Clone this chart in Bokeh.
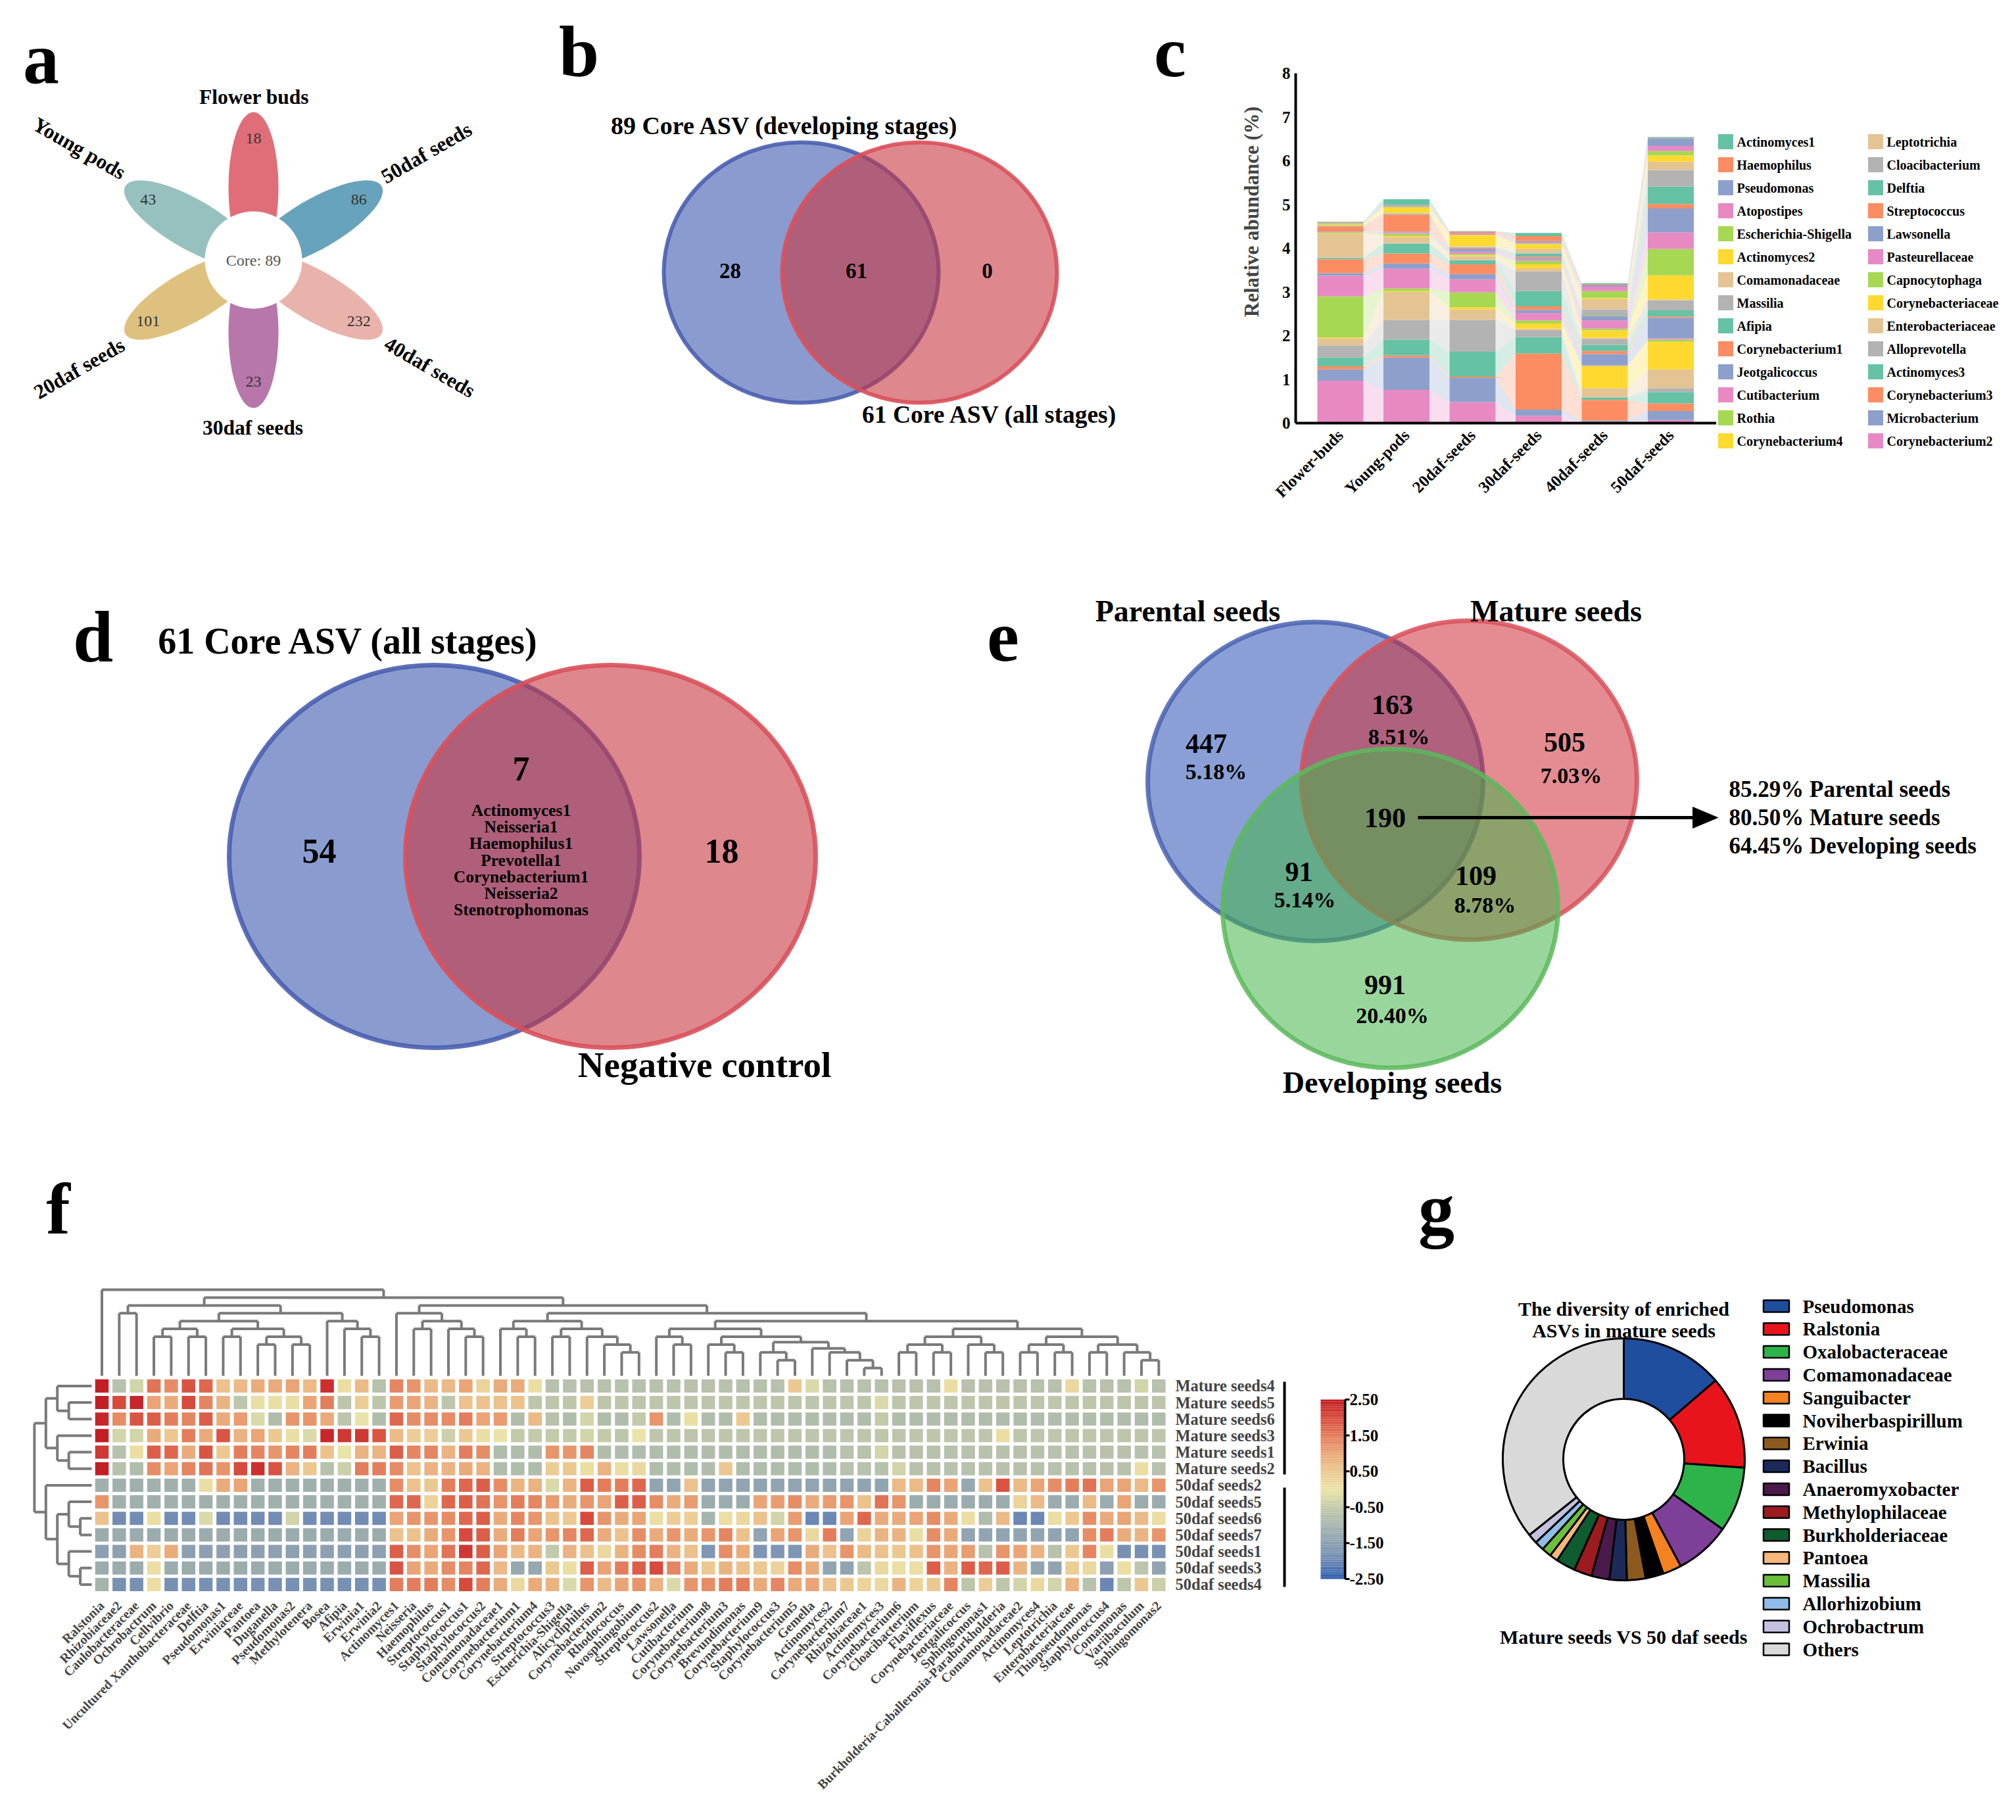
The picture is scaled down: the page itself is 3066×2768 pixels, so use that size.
import math
import numpy as np
from bokeh.plotting import figure
from bokeh.models import Range1d, FixedTicker, LinearAxis, ColumnDataSource, LinearColorMapper
from bokeh.layouts import row, column
from bokeh.embed import file_html
from bokeh.resources import INLINE
from bokeh.core.properties import value

# ------------------------------------------------------------------ DATA
# (a) flower diagram
petal_names = ["Flower buds", "50daf seeds", "40daf seeds", "30daf seeds", "20daf seeds", "Young pods"]
petal_counts = [18, 86, 232, 23, 101, 43]
core_count = 89

# (b) Venn
b_counts = [28, 61, 0]
b_labels = ["89 Core ASV (developing stages)", "61 Core ASV (all stages)"]

# (c) stacked abundance (%), 28 taxa
taxa = ["Actinomyces1", "Haemophilus", "Pseudomonas", "Atopostipes", "Escherichia-Shigella",
        "Actinomyces2", "Comamonadaceae", "Massilia", "Afipia", "Corynebacterium1",
        "Jeotgalicoccus", "Cutibacterium", "Rothia", "Corynebacterium4",
        "Leptotrichia", "Cloacibacterium", "Delftia", "Streptococcus", "Lawsonella",
        "Pasteurellaceae", "Capnocytophaga", "Corynebacteriaceae", "Enterobacteriaceae",
        "Alloprevotella", "Actinomyces3", "Corynebacterium3", "Microbacterium", "Corynebacterium2"]
stages = ["Flower-buds", "Young-pods", "20daf-seeds", "30daf-seeds", "40daf-seeds", "50daf-seeds"]
# values listed from the bottom of each bar upward (= taxa reversed)
flower_buds = [0.97, 0.26, 0.07, 0.20, 0.28, 0.16, 0.02, 0.94, 0.47, 0.06, 0.32, 0.03, 0.01, 0.54,
               0.01, 0.02, 0.01, 0.01, 0.12, 0.01, 0.01, 0.01, 0.02, 0.02, 0.01, 0.01, 0.01, 0.01]
young_pods = [0.76, 0.74, 0.05, 0.36, 0.45, 0.64, 0.02, 0.06, 0.45, 0.12, 0.23, 0.22, 0.02, 0.14,
              0.02, 0.05, 0.03, 0.02, 0.39, 0.01, 0.02, 0.01, 0.12, 0.02, 0.02, 0.01, 0.01, 0.13]
daf20 = [0.48, 0.55, 0.03, 0.57, 0.73, 0.24, 0.05, 0.34, 0.30, 0.12, 0.22, 0.09, 0.01, 0.09,
         0.02, 0.03, 0.05, 0.07, 0.02, 0.01, 0.01, 0.02, 0.25, 0.01, 0.03, 0.01, 0.03, 0.01]
daf30 = [0.17, 0.14, 1.28, 0.38, 0.16, 0.03, 0.12, 0.07, 0.17, 0.07, 0.08, 0.35, 0.45, 0.07,
         0.09, 0.08, 0.04, 0.03, 0.03, 0.07, 0.02, 0.09, 0.10, 0.02, 0.02, 0.03, 0.12, 0.07]
daf40 = [0.03, 0.03, 0.47, 0.05, 0.01, 0.21, 0.50, 0.01, 0.01, 0.26, 0.07, 0.14, 0.14, 0.02,
         0.17, 0.04, 0.19, 0.10, 0.02, 0.03, 0.10, 0.24, 0.02, 0.16, 0.10, 0.04, 0.02, 0.02]
daf50 = [0.07, 0.21, 0.17, 0.26, 0.09, 0.43, 0.63, 0.05, 0.03, 0.47, 0.03, 0.14, 0.23, 0.02,
         0.55, 0.60, 0.38, 0.55, 0.10, 0.40, 0.38, 0.19, 0.14, 0.10, 0.12, 0.17, 0.01, 0.02]
stage_values = [flower_buds, young_pods, daf20, daf30, daf40, daf50]
y_ticks_c = [0, 1, 2, 3, 4, 5, 6, 7, 8]

# (d) Venn
d_counts = [54, 7, 18]
d_shared = ["Actinomyces1", "Neisseria1", "Haemophilus1", "Prevotella1",
            "Corynebacterium1", "Neisseria2", "Stenotrophomonas"]

# (e) three-set Venn
e_sets = ["Parental seeds", "Mature seeds", "Developing seeds"]
e_counts = [447, 163, 505, 190, 91, 109, 991]
e_pcts = ["5.18%", "8.51%", "7.03%", "", "5.14%", "8.78%", "20.40%"]
e_core_pcts = ["85.29%", "80.50%", "64.45%"]

# (f) heatmap (z-scores)
hm_cols = ["Ralstonia", "Rhizobiaceae2", "Caulobacteraceae", "Ochrobactrum", "Cellvibrio",
           "Uncultured Xanthobacteraceae", "Delftia", "Pseudomonas1", "Erwiniaceae", "Pantoea",
           "Duganella", "Pseudomonas2", "Methylotenera", "Bosea", "Afipia", "Erwinia1", "Erwinia2",
           "Actinomyces1", "Neisseria", "Haemophilus", "Streptococcus1", "Staphylococcus1",
           "Staphylococcus2", "Comamonadaceae1", "Corynebacterium1", "Corynebacterium4",
           "Streptococcus3", "Escherichia-Shigella", "Alicycliphilus", "Corynebacterium2",
           "Rhodococcus", "Novosphingobium", "Streptococcus2", "Lawsonella", "Cutibacterium",
           "Corynebacterium8", "Corynebacterium3", "Brevundimonas", "Corynebacterium9",
           "Staphylococcus3", "Corynebacterium5", "Gemella", "Actinomyces2", "Corynebacterium7",
           "Rhizobiaceae1", "Actinomyces3", "Corynebacterium6", "Cloacibacterium", "Flaviflexus",
           "Corynebacteriaceae", "Jeotgalicoccus", "Sphingomonas1",
           "Burkholderia-Caballeronia-Paraburkholderia", "Comamonadaceae2", "Actinomyces4",
           "Leptotrichia", "Enterobacteriaceae", "Thiopseudomonas", "Staphylococcus4",
           "Comamonas", "Variibaculum", "Sphingomonas2"]
hm_rows = ["Mature seeds4", "Mature seeds5", "Mature seeds6", "Mature seeds3", "Mature seeds1",
           "Mature seeds2", "50daf seeds2", "50daf seeds5", "50daf seeds6", "50daf seeds7",
           "50daf seeds1", "50daf seeds3", "50daf seeds4"]
hm_values = [
    [2.5, -0.7, -0.3, 1.6, 1.3, 1.9, 1.7, 0.6, 0.7, 0.9, 0.9, 1.0, 0.7, 2.3, 0.1, 0.7, -0.7, 1.4, 1.2, 0.7,
     0.7, 1.0, 0.3, 0.9, 0.9, 0.1, -0.7, -0.7, -0.7, -0.7, -0.7, -0.7, -0.7, -0.7, -0.7, -0.7, -0.7, -0.7, -0.7, -0.7,
     0.5, -0.2, -0.7, -0.7, -0.7, -0.7, -0.7, -0.7, -0.7, 0.1, -0.7, -0.7, -0.7, -0.7, -0.7, -0.7, 0.2, -0.7, -0.7, -0.7,
     -0.3, -0.7],
    [2.5, 2.0, 2.4, 1.0, 0.9, 2.0, 1.4, 0.8, -0.6, 0.1, 0.1, 0.1, 1.0, 1.5, -0.6, 0.4, -0.6, 1.1, 1.0, 0.8,
     -0.6, 0.6, 0.6, 0.6, 0.6, -0.6, -0.6, -0.6, 0.4, -0.6, -0.6, -0.6, -0.6, -0.6, -0.6, -0.6, -0.6, -0.6, -0.6, -0.6,
     -0.6, -0.6, -0.6, -0.6, -0.6, -0.2, -0.6, -0.6, -0.6, -0.6, -0.6, -0.6, -0.6, -0.6, -0.6, -0.6, -0.6, -0.6, -0.6, -0.6,
     -0.6, -0.6],
    [2.4, 1.3, 1.9, 1.8, 1.5, 1.4, 1.8, 0.9, 1.1, -0.2, -0.8, 1.2, 1.2, 0.9, -0.6, 0.0, -0.8, 1.7, 1.3, 1.3,
     1.3, 1.5, 1.0, 1.1, -0.8, 0.7, -0.7, -0.8, -0.3, -0.8, -0.8, -0.5, 1.2, -0.8, 0.1, -0.8, -0.8, 0.5, -0.8, -0.8,
     -0.8, -0.8, -0.8, -0.8, -0.8, -0.5, -0.8, -0.8, -0.8, -0.8, -0.8, -0.8, -0.8, -0.8, -0.8, -0.8, -0.8, -0.8, -0.8, -0.8,
     -0.8, -0.8],
    [2.5, -0.3, -0.3, 0.9, 0.5, 1.5, 0.9, 1.9, 0.8, 1.0, 0.5, 0.1, -0.2, 2.4, 2.2, 2.2, 1.9, 0.7, 0.4, 0.4,
     -0.4, 0.5, 0.1, 0.0, -0.5, -0.5, -0.5, -0.5, -0.3, -0.5, -0.6, 0.0, -0.6, -0.6, -0.6, -0.6, -0.6, -0.6, -0.6, -0.6,
     -0.6, -0.6, -0.6, -0.6, -0.6, -0.6, -0.6, -0.6, -0.6, -0.6, -0.6, -0.6, 0.1, -0.6, -0.6, -0.6, -0.6, -0.6, -0.6, -0.6,
     -0.6, -0.6],
    [2.2, -0.7, 0.1, 1.8, 1.7, 0.9, 1.9, 0.5, 1.5, 1.4, 1.2, 1.4, 1.5, 0.6, 0.0, 0.8, 0.8, 1.8, 1.4, 1.4,
     0.8, 1.5, 1.3, -0.8, -0.8, -0.8, 1.2, 1.2, 1.4, -0.8, -0.8, -0.8, -0.8, -0.8, -0.8, -0.8, -0.8, -0.8, -0.8, -0.8,
     -0.8, -0.8, -0.8, -0.7, -0.7, -0.3, -0.7, -0.7, -0.7, -0.7, -0.7, -0.7, -0.7, -0.7, -0.7, -0.7, -0.7, -0.7, -0.7, -0.7,
     -0.7, -0.7],
    [2.5, -0.7, -0.8, 1.3, 1.0, 1.4, 1.6, 1.2, 2.0, 2.3, 1.9, 0.8, 0.5, -0.7, -0.4, 1.5, 1.5, 1.3, 0.6, 0.8,
     0.8, 0.9, 0.8, -0.8, -0.8, -0.8, 0.4, 0.5, 0.1, 0.8, 0.1, 0.2, -0.8, -0.8, -0.8, -0.8, 0.5, -0.8, -0.8, -0.8,
     -0.8, -0.8, -0.8, -0.7, -0.7, -0.7, -0.3, -0.7, -0.7, -0.7, -0.7, -0.7, -0.7, -0.7, -0.7, -0.7, -0.7, -0.7, -0.7, -0.7,
     0.1, -0.7],
    [-1.1, -1.1, -1.1, -1.1, -1.1, -1.1, 0.1, 0.9, 1.0, -1.1, -1.1, -1.1, -1.1, -1.1, -1.1, -1.1, -1.1, 1.3, 0.6, 0.5,
     1.5, 1.7, 1.8, 1.3, 0.8, 0.8, -0.2, 0.8, 1.8, 1.5, 1.5, 1.7, -1.4, -1.4, 0.6, -1.4, -1.4, -1.4, -1.4, -1.4,
     -1.4, -1.4, -1.4, -1.4, -1.4, -1.4, 0.7, 0.7, 1.4, 1.0, -1.3, 0.6, 1.9, 0.7, 1.0, 1.3, 1.5, 1.6, 1.0, 1.0,
     0.7, 1.2],
    [1.2, -1.1, -1.1, -1.1, -1.1, -1.1, -1.1, -1.1, -1.1, -1.1, -1.1, -1.1, -1.1, -1.1, -1.1, -1.1, -1.1, 1.7, 1.7, 0.3,
     1.7, 1.8, 1.6, 1.2, 1.5, 1.4, 1.1, 0.9, 1.2, 1.0, 1.8, 1.8, 1.3, 0.9, 1.1, -1.2, -1.2, -1.2, 1.0, 1.1,
     1.3, 0.9, 1.1, 1.2, 0.6, 1.6, 1.2, -1.2, -1.2, -1.2, -1.2, -1.2, -1.2, 0.3, 0.7, -1.2, -1.2, 0.7, -1.2, 1.0,
     -1.2, -1.2],
    [0.6, -1.9, -1.9, 0.1, -1.9, -1.9, -0.2, -1.9, -1.9, -1.9, -1.9, -0.3, -1.9, -1.9, -1.9, -1.9, -1.9, 1.0, 1.2, 1.2,
     1.3, 1.7, 1.8, 0.9, 1.4, 1.2, 0.6, 0.5, 2.0, 1.2, 0.9, 1.0, 0.1, 0.4, 0.4, -1.0, 0.1, 0.2, 0.6, -0.3,
     1.1, -2.0, -2.0, 1.0, 1.7, 0.9, 0.9, 1.0, 1.3, 0.9, 0.1, -0.8, 0.7, -2.0, -2.0, 0.1, 0.5, 1.3, 0.9, 1.0,
     0.7, 0.1],
    [-1.2, -1.2, -1.2, -1.2, -1.2, -1.2, -1.2, -1.2, -1.2, -1.2, -1.2, -1.2, -1.2, -1.2, -1.2, -1.2, -1.2, 0.6, 0.6, 0.9,
     1.2, 2.0, 1.8, 0.9, 1.5, 1.0, 1.2, 1.4, 1.7, 0.9, 0.6, 1.3, 0.9, 1.2, 0.9, 1.2, 1.4, 0.6, -1.4, 1.0,
     1.2, 0.2, 1.5, -1.4, 0.3, 0.8, 0.8, 0.1, 1.3, 0.9, -1.4, -1.4, -1.4, -1.4, -1.4, -1.4, -1.4, 1.3, 1.5, 0.9,
     0.8, 1.2],
    [-1.5, -1.5, 0.8, 0.4, 0.9, -1.5, -1.5, -1.5, -1.5, -1.5, -1.5, -1.5, -1.5, -1.5, -1.5, -1.5, -1.5, 1.8, 1.3, 1.0,
     1.6, 2.2, 1.8, 1.0, 0.7, 0.8, -0.5, 0.8, 0.6, 0.2, 0.8, 1.3, 1.5, 0.8, 0.6, -1.7, 1.3, 0.9, -1.7, -1.7,
     -1.7, 0.9, 0.6, 1.2, 0.7, 0.6, 0.5, 0.6, 1.2, 1.0, 1.1, -0.7, 1.2, 1.0, 0.8, -0.7, 0.5, 1.4, 0.1, -1.8,
     -1.8, -1.8],
    [-1.2, -1.2, -1.2, 0.1, -1.2, -1.2, -1.2, -1.2, -1.2, -1.2, -1.2, -1.2, -1.2, -1.2, -1.2, -1.2, -1.2, 1.9, 1.0, 0.9,
     1.3, 1.4, 1.7, 0.7, -1.3, -1.3, 0.5, 0.1, 1.8, 1.0, 1.5, 1.8, 2.0, 1.4, 0.9, 0.5, 0.8, 0.6, 0.5, 0.3,
     1.3, 0.9, -1.4, -1.4, -0.6, 0.2, 0.1, 0.1, 1.8, 0.8, 1.8, 1.7, 1.8, 0.8, -1.4, -1.4, 0.4, 0.2, -1.5, 0.1,
     -0.6, -1.4],
    [-1.0, -1.8, -1.8, 0.1, -1.8, -1.8, -1.8, -1.8, -1.8, -1.8, -1.8, -1.8, -1.8, -1.8, -1.8, -1.8, -1.8, 1.5, 1.5, 1.5,
     1.3, 2.0, 1.5, 0.9, 0.2, 0.9, 0.8, -0.2, 1.2, 0.7, 1.0, 1.2, 0.8, -0.2, 1.2, 1.3, 1.5, 1.5, 0.9, 1.4,
     0.9, 1.0, 0.6, 0.5, 0.3, 0.2, 0.8, 0.3, 0.5, 1.4, -0.6, 0.4, -0.6, -0.3, 0.2, -0.3, 0.8, -0.7, -2.0, -0.6,
     0.5, -0.4],
]
cbar_ticks = [2.5, 1.5, 0.5, -0.5, -1.5, -2.5]
# dendrograms: [merge level, child, child]; leaves are 1-based indices
_A = [7, [6, [5, 4, 5], [5, 6, 7]], [6, [5, 8, 9], [5, [4, 10, 11], [4, 12, 13]]]]
_B = [7, 14, [6, 15, [5, 16, 17]]]
_LEFT = [9, [8, 2, 3], [8, _A, _B]]
_R18 = [8, 18, [7, [6, 19, 20], [6, 21, [5, 22, 23]]]]
_C24 = [7, [6, 24, [5, 25, 26]], [6, [5, 27, 28], [5, 29, [4, 30, [3, 31, 32]]]]]
_C42 = [3.5, 42, [3, 43, [2, 44, [1, 45, 46]]]]
_C33 = [6, [5, 33, [4, 34, 35]], [5, [4, 36, [3, 37, 38]], [4.3, [3, 39, [2, 40, 41]], _C42]]]
_C47 = [6, [5, [4, [3, 47, 48], [3, 49, 50]], [4, 51, [3, 52, 53]]],
        [5, [4, [3, 54, 55], [3, 56, 57]], [4, [3, 58, 59], [3, 60, [2, 61, 62]]]]]
_RIGHT = [9, _R18, [8, _C24, [7, _C33, _C47]]]
col_tree = [11, 1, [10, _LEFT, _RIGHT]]
row_tree = [5, [4, [3, 1, [2, 2, 3]], [3, 4, [2, 5, 6]]],
            [4, 7, [3, [2, 8, [1, 9, 10]], [2, 11, [1, 12, 13]]]]]

# (g) donut (%)
g_names = ["Pseudomonas", "Ralstonia", "Oxalobacteraceae", "Comamonadaceae", "Sanguibacter",
           "Noviherbaspirillum", "Erwinia", "Bacillus", "Anaeromyxobacter", "Methylophilaceae",
           "Burkholderiaceae", "Pantoea", "Massilia", "Allorhizobium", "Ochrobactrum", "Others"]
g_values = [13.7, 12.4, 8.7, 7.4, 2.5, 2.4, 2.5, 2.3, 2.4, 2.4, 2.6, 1.1, 1.3, 1.25, 1.3, 35.75]

# ------------------------------------------------------------------ STYLE
SERIF = value("Liberation Serif")
SET2 = ["#66c2a5", "#fc8d62", "#8da0cb", "#e78ac3", "#a6d854", "#ffd92f", "#e5c494", "#b3b3b3"]
PETAL_COLORS = ["#e06e78", "#67a3bc", "#e9b3ac", "#b777ab", "#dfc17f", "#97c1be"]
G_COLORS = ["#1f4e9e", "#e8141c", "#2db34a", "#7e3f98", "#f58220", "#000000", "#8c5a1e", "#1c2a5a",
            "#4a1a4a", "#9b1b1f", "#0e5c2f", "#f5b77a", "#6cbf3c", "#8fbde8", "#c4c0e0", "#d9d9d9"]
ANCH = [(-2.5, (44, 92, 176)), (-2.0, (108, 136, 180)), (-1.5, (140, 160, 178)), (-1.0, (165, 180, 172)),
        (-0.5, (195, 202, 170)), (0.0, (234, 228, 168)), (0.5, (236, 200, 145)), (1.0, (234, 165, 118)),
        (1.5, (228, 125, 92)), (2.0, (215, 75, 60)), (2.5, (195, 30, 38))]


def cmap_color(v):
    v = max(-2.5, min(2.5, v))
    for (a, ca), (b, cb) in zip(ANCH[:-1], ANCH[1:]):
        if a <= v <= b:
            t = (v - a) / (b - a)
            c = [int(round(ca[k] + t * (cb[k] - ca[k]))) for k in range(3)]
            return "#%02x%02x%02x" % tuple(c)
    return "#000000"


PALETTE = [cmap_color(v) for v in np.linspace(-2.5, 2.5, 256)]


def style(p):
    p.outline_line_color = None
    p.background_fill_color = "white"
    p.border_fill_color = "white"
    p.xgrid.visible = False
    p.ygrid.visible = False
    try:
        p.frame_align = False
    except Exception:
        pass


def pix_fig(x0, y0, w, h):
    p = figure(width=w, height=h, x_range=Range1d(x0, x0 + w), y_range=Range1d(-(y0 + h), -y0),
               output_backend="svg", toolbar_location=None, min_border=0,
               x_axis_location=None, y_axis_location=None)
    style(p)
    return p


def txt(p, xs, ys, texts, size, bold=True, align="center", baseline="middle", angle=0.0,
        color="black", flip=True):
    src = ColumnDataSource(dict(x=list(xs), y=[-y for y in ys] if flip else list(ys), t=list(texts)))
    p.text(x="x", y="y", text="t", source=src, text_font=SERIF,
           text_font_style="bold" if bold else "normal", text_font_size=f"{size}px",
           text_align=align, text_baseline=baseline, angle=angle, text_color=color)


LETTER = 110

# ------------------------------------------------------------------ (a)
fa = pix_fig(0, 0, 800, 860)
cx, cy = 385, 395
pet_ang = [90, 30, -30, -90, -150, 150]
ex = [cx + 110 * math.cos(math.radians(a)) for a in pet_ang]
ey = [-(cy - 110 * math.sin(math.radians(a))) for a in pet_ang]
fa.ellipse(x=ex, y=ey, width=230, height=76, angle=[math.radians(a) for a in pet_ang],
           fill_color=PETAL_COLORS, line_color=None)
fa.ellipse(x=[cx], y=[-cy], width=148, height=148, fill_color="white", line_color=None)
nx = [cx + 185 * math.cos(math.radians(a)) for a in pet_ang]
ny = [cy - 185 * math.sin(math.radians(a)) for a in pet_ang]
txt(fa, nx, ny, [str(c) for c in petal_counts], 24, bold=False, color="#333333")
txt(fa, [cx], [cy], [f"Core: {core_count}"], 24, bold=False, color="#555555")
lab_pos = [(386, 147, 0), (648, 232, 30), (653, 558, -30), (384, 650, 0), (120, 560, 30), (120, 225, -30)]
for name, (lx, ly, la) in zip(petal_names, lab_pos):
    txt(fa, [lx], [ly], [name], 31.5, angle=math.radians(la))
txt(fa, [62], [88], ["a"], LETTER)

# ------------------------------------------------------------------ (b)
fb = pix_fig(800, 0, 1030, 860)
fb.ellipse(x=[1218], y=[-414], width=418, height=396, fill_color=(60, 90, 175), fill_alpha=0.6,
           line_color="#4a5fb0", line_width=6, line_alpha=0.9)
fb.ellipse(x=[1398], y=[-414], width=418, height=396, fill_color=(200, 55, 65), fill_alpha=0.6,
           line_color="#d9505a", line_width=6, line_alpha=0.9)
txt(fb, [1110, 1302, 1501], [411, 411, 411], [str(c) for c in b_counts], 33)
txt(fb, [1193], [190], [b_labels[0]], 38)
txt(fb, [1505], [630], [b_labels[1]], 37.5)
txt(fb, [880], [78], ["b"], LETTER)
txt(fb, [1779], [78], ["c"], LETTER)

# ------------------------------------------------------------------ (c)
pitch_c = 100.5
xs_c = 1 - 68 / pitch_c
fc = figure(width=780, height=860, x_range=Range1d(xs_c, xs_c + 640 / pitch_c),
            y_range=Range1d(0, 643 / 66.5), output_backend="svg", toolbar_location=None,
            min_border_left=140, min_border_right=0, min_border_top=0, min_border_bottom=217)
style(fc)
bw = 70 / pitch_c
stack_colors = [SET2[i % 8] for i in range(len(taxa))][::-1]  # bottom-up order
cums = [np.concatenate([[0.0], np.cumsum(v)]) for v in stage_values]
fx, fy, fcol = [], [], []
for i in range(len(stages) - 1):
    xr, xl = (i + 1) + bw / 2, (i + 2) - bw / 2
    a, b = cums[i], cums[i + 1]
    for k in range(len(taxa)):
        fx.append([xr, xl, xl, xr])
        fy.append([a[k], b[k], b[k + 1], a[k + 1]])
        fcol.append(stack_colors[k])
fc.patches(xs=fx, ys=fy, fill_color=fcol, fill_alpha=0.28, line_color=None)
ql, qr, qb, qt, qc = [], [], [], [], []
for i in range(len(stages)):
    for k in range(len(taxa)):
        ql.append(i + 1 - bw / 2); qr.append(i + 1 + bw / 2)
        qb.append(cums[i][k]); qt.append(cums[i][k + 1]); qc.append(stack_colors[k])
fc.quad(left=ql, right=qr, bottom=qb, top=qt, fill_color=qc, line_color=None)
fc.xaxis.ticker = FixedTicker(ticks=list(range(1, len(stages) + 1)))
fc.xaxis.major_label_overrides = {i + 1: s for i, s in enumerate(stages)}
fc.xaxis.major_label_orientation = math.pi / 4
fc.yaxis.ticker = FixedTicker(ticks=y_ticks_c)
fc.yaxis.bounds = (0, 8)
for ax in (fc.xaxis, fc.yaxis):
    ax.axis_line_width = 4
    ax.axis_line_color = "black"
    ax.major_tick_line_color = None
    ax.minor_tick_line_color = None
    ax.major_label_text_font = "Liberation Serif"
    ax.major_label_text_font_style = "bold"
    ax.major_label_text_font_size = "25px"
    ax.major_label_text_color = "black"
fc.xaxis.major_label_standoff = 8
fc.yaxis.major_label_standoff = 2
fc.yaxis.axis_label = "Relative abundance (%)"
fc.yaxis.axis_label_text_font = "Liberation Serif"
fc.yaxis.axis_label_text_font_style = "bold"
fc.yaxis.axis_label_text_font_size = "31px"
fc.yaxis.axis_label_standoff = 26

# legend of (c)
fcl = pix_fig(2610, 0, 440, 860)
lx, ly, lc, ln = [], [], [], []
for i, name in enumerate(taxa):
    col_i, row_i = divmod(i, 14)
    lx.append(2624 if col_i == 0 else 2852)
    ly.append(215 + 35 * row_i)
    lc.append(SET2[i % 8]); ln.append(name)
fcl.rect(x=lx, y=[-y for y in ly], width=23, height=23, fill_color=lc, line_color=None)
txt(fcl, [x + 17 for x in lx], ly, ln, 20, align="left")

# ------------------------------------------------------------------ (d)
fd = pix_fig(0, 860, 1480, 880)
fd.ellipse(x=[660], y=[-1302], width=624, height=582, fill_color=(60, 90, 175), fill_alpha=0.6,
           line_color="#4a5fb0", line_width=7, line_alpha=0.9)
fd.ellipse(x=[928], y=[-1302], width=624, height=582, fill_color=(200, 55, 65), fill_alpha=0.6,
           line_color="#d9505a", line_width=7, line_alpha=0.9)
txt(fd, [485, 792, 1097], [1294, 1169, 1294], [str(c) for c in d_counts], 52)
txt(fd, [792] * len(d_shared), [1232 + 25.2 * i for i in range(len(d_shared))], d_shared, 25.5)
txt(fd, [530], [974], ["61 Core ASV (all stages)"], 56)
txt(fd, [1071], [1619], ["Negative control"], 55)
txt(fd, [141], [968], ["d"], LETTER)

# ------------------------------------------------------------------ (e)
fe = pix_fig(1480, 860, 1570, 880)
for (x, y), fc_, lc_ in zip([(2000, 1188), (2234, 1186), (2114, 1381)],
                            [(40, 80, 180), (205, 45, 55), (70, 180, 75)],
                            ["#4a62b0", "#d9505a", "#5cb85c"]):
    fe.ellipse(x=[x], y=[-y], width=510, height=485, fill_color=fc_, fill_alpha=0.55,
               line_color=lc_, line_width=7, line_alpha=0.85)
num_pos = [(1834, 1130), (2117, 1071), (2379, 1128), (2106, 1243), (1975, 1325), (2244, 1331), (2106, 1497)]
pct_pos = [(1849, 1173), (2127, 1120), (2389, 1179), (0, 0), (1984, 1368), (2258, 1376), (2117, 1544)]
txt(fe, [p[0] for p in num_pos], [p[1] for p in num_pos], [str(c) for c in e_counts], 42)
pk = [i for i, s in enumerate(e_pcts) if s]
txt(fe, [pct_pos[i][0] for i in pk], [pct_pos[i][1] for i in pk], [e_pcts[i] for i in pk], 34)
txt(fe, [1806, 2366, 2117], [929, 929, 1646], e_sets, 46)
fe.segment(x0=[2156], y0=[-1243], x1=[2580], y1=[-1243], line_color="black", line_width=5)
fe.patch(x=[2574, 2612, 2574], y=[-1227, -1243, -1259], fill_color="black", line_color="black")
txt(fe, [2629] * 3, [1200, 1243, 1286], [f"{p} {s}" for p, s in zip(e_core_pcts, e_sets)], 35,
    align="left")
txt(fe, [1525], [968], ["e"], LETTER)

# ------------------------------------------------------------------ (f)
ncol, nrow = len(hm_cols), len(hm_rows)
PX, PY = 26.35, 25.17          # px per column / row
HM_LEFT, HM_BOTTOM = 141.3, 2422  # heatmap edge in page px
ff = figure(width=1945, height=1012, x_range=Range1d((40 - HM_LEFT) / PX, ncol),
            y_range=Range1d(0, (HM_BOTTOM - 1740) / PY), output_backend="svg",
            toolbar_location=None, min_border_left=40, min_border_right=170,
            min_border_top=0, min_border_bottom=330, y_axis_location=None)
style(ff)
mapper = LinearColorMapper(palette=PALETTE, low=-2.5, high=2.5)
hx, hy, hv = [], [], []
for r, vals in enumerate(hm_values):
    for c, v in enumerate(vals):
        hx.append(c + 0.5); hy.append(nrow - r - 0.5); hv.append(v)
ff.rect(x="x", y="y", width=0.78, height=0.80, source=ColumnDataSource(dict(x=hx, y=hy, v=hv)),
        fill_color={"field": "v", "transform": mapper}, line_color=None)


def dendro(node, segs):
    if isinstance(node, int):
        return float(node), 0.0
    lev, a, b = node
    pa, la = dendro(a, segs)
    pb, lb = dendro(b, segs)
    segs += [(pa, la, pa, lev), (pb, lb, pb, lev), (pa, lev, pb, lev)]
    return (pa + pb) / 2, lev


csegs, rsegs = [], []
dendro(col_tree, csegs)
dendro(row_tree, rsegs)
ylev = lambda L: (HM_BOTTOM - (2092 - 11.9 * L)) / PY
xlev = lambda L: ((139 - 17.43 * L) - HM_LEFT) / PX
ff.segment(x0=[s[0] - 0.5 for s in csegs], y0=[ylev(s[1]) for s in csegs],
           x1=[s[2] - 0.5 for s in csegs], y1=[ylev(s[3]) for s in csegs],
           line_color="#7a7a7a", line_width=4)
ff.segment(x0=[xlev(s[1]) for s in rsegs], y0=[nrow + 0.5 - s[0] for s in rsegs],
           x1=[xlev(s[3]) for s in rsegs], y1=[nrow + 0.5 - s[2] for s in rsegs],
           line_color="#7a7a7a", line_width=4)
ff.xaxis.ticker = FixedTicker(ticks=[c + 0.5 for c in range(ncol)])
ff.xaxis.major_label_overrides = {c + 0.5: n for c, n in enumerate(hm_cols)}
ff.xaxis.major_label_orientation = math.pi / 4
rax = LinearAxis(ticker=FixedTicker(ticks=[nrow - r - 0.5 for r in range(nrow)]),
                 major_label_overrides={nrow - r - 0.5: n for r, n in enumerate(hm_rows)})
ff.add_layout(rax, "right")
for ax, sz, so in ((ff.xaxis[0], "20px", 10), (rax, "24.5px", 6)):
    ax.axis_line_color = None
    ax.major_tick_line_color = None
    ax.minor_tick_line_color = None
    ax.major_label_text_font = "Liberation Serif"
    ax.major_label_text_font_style = "bold"
    ax.major_label_text_font_size = sz
    ax.major_label_standoff = so
txt(ff, [(88 - HM_LEFT) / PX], [(HM_BOTTOM - 1838) / PY], ["f"], LETTER, flip=False)

# side of (f): group bars + colour bar
ffs = pix_fig(1945, 1740, 205, 1012)
ffs.segment(x0=[1953, 1953], y0=[-2101, -2262], x1=[1953, 1953], y1=[-2242, -2413],
            line_color="black", line_width=4)
cb_top, cb_bot = 2128, 2401
vv = np.linspace(-2.5, 2.5, 101)
ffs.quad(left=2008, right=2043,
         bottom=[-(cb_bot - (v + 2.5) / 5 * (cb_bot - cb_top)) for v in vv[:-1]],
         top=[-(cb_bot - (v + 2.5) / 5 * (cb_bot - cb_top)) for v in vv[1:]],
         fill_color=[cmap_color((a + b) / 2) for a, b in zip(vv[:-1], vv[1:])], line_color=None)
ffs.segment(x0=[2045], y0=[-cb_top], x1=[2045], y1=[-cb_bot], line_color="black", line_width=4)
tky = [cb_bot - (v + 2.5) / 5 * (cb_bot - cb_top) for v in cbar_ticks]
ffs.segment(x0=[2045] * 6, y0=[-y for y in tky], x1=[2052] * 6, y1=[-y for y in tky],
            line_color="black", line_width=3)
txt(ffs, [2052] * 6, tky, [f"{v:.2f}" for v in cbar_ticks], 25, align="left")

# ------------------------------------------------------------------ (g)
fg = pix_fig(2150, 1740, 900, 1012)
gcx, gcy = 2469, 2219
cum = np.concatenate([[0.0], np.cumsum(g_values)]) / sum(g_values) * 360.0
fg.annular_wedge(x=gcx, y=-gcy, inner_radius=92, outer_radius=184,
                 start_angle=[math.radians(90 - a) for a in cum[:-1]],
                 end_angle=[math.radians(90 - a) for a in cum[1:]], direction="clock",
                 fill_color=G_COLORS, line_color="black", line_width=3)
txt(fg, [gcx, gcx], [1990, 2023], ["The diversity of enriched", "ASVs in mature seeds"], 30)
txt(fg, [gcx], [2489], ["Mature seeds VS 50 daf seeds"], 30)
gy = [1986 + 34.8 * i for i in range(len(g_names))]
fg.rect(x=[2701] * len(g_names), y=[-y for y in gy], width=39, height=18, fill_color=G_COLORS,
        line_color="black", line_width=2.5)
txt(fg, [2741] * len(g_names), gy, g_names, 29, align="left")
txt(fg, [2184], [1838], ["g"], LETTER)

layout = column(row(fa, fb, fc, fcl), row(fd, fe), row(ff, ffs, fg))
open("out.html", "w").write(file_html(layout, INLINE))
